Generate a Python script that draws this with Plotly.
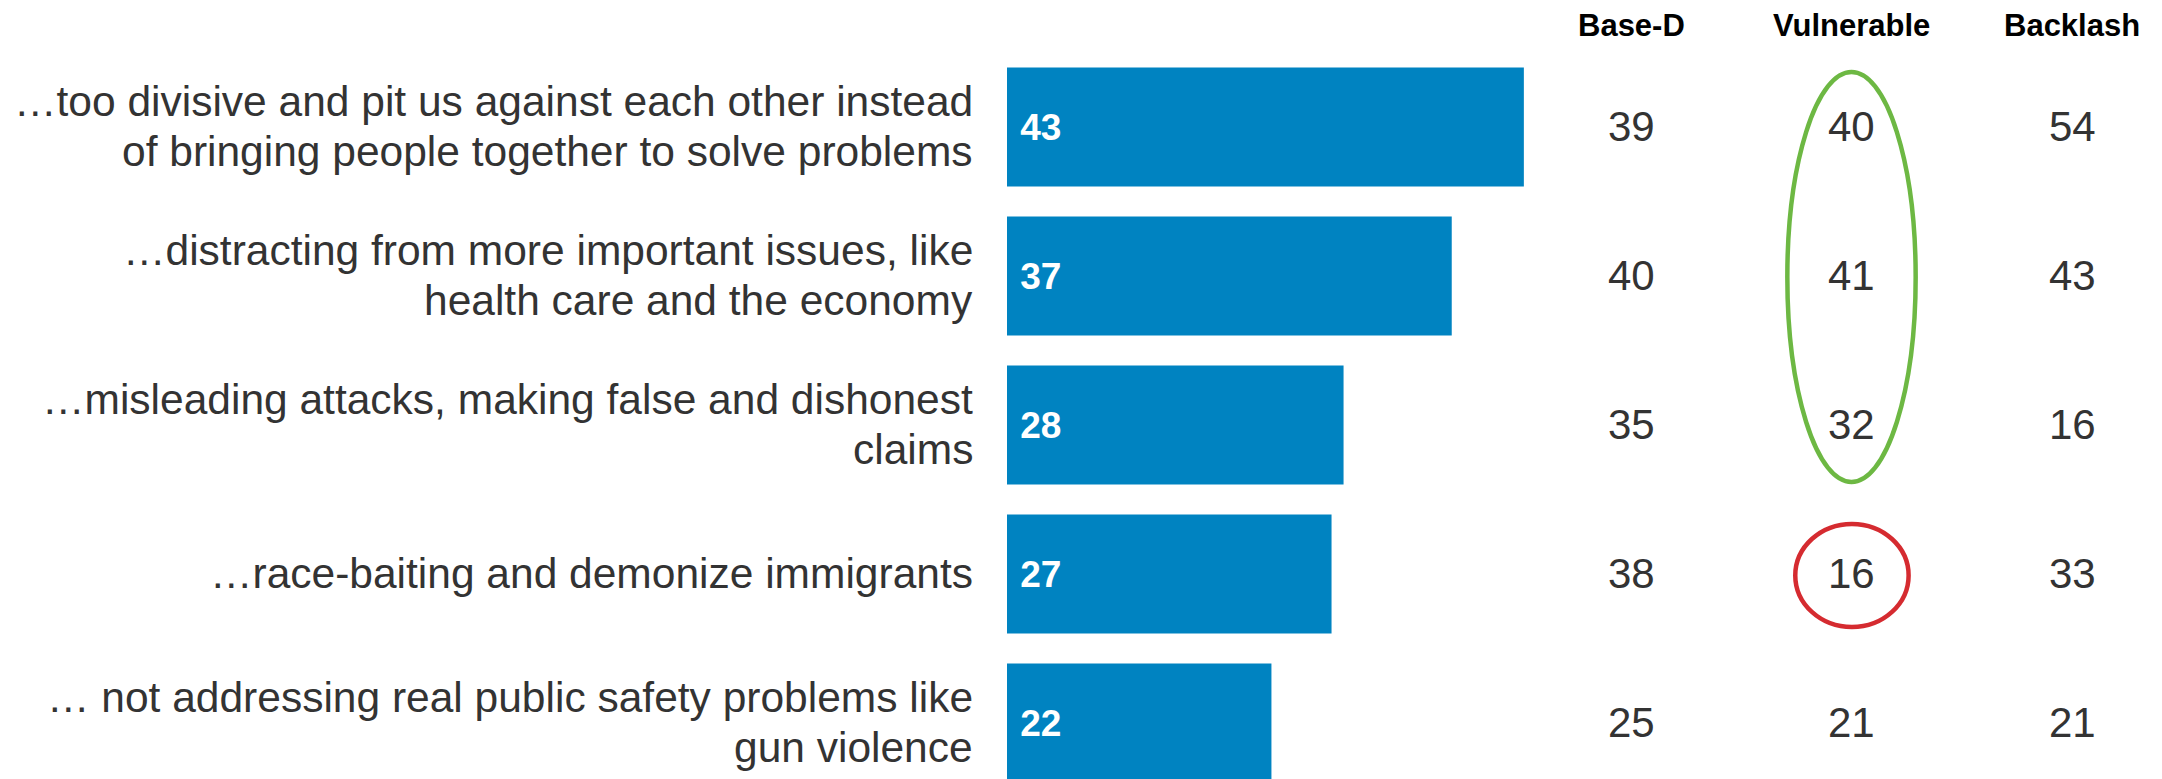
import plotly.graph_objects as go

# ---- data ----
categories = [
    "…too divisive and pit us against each other instead<br>of bringing people together to solve problems",
    "…distracting from more important issues, like<br>health care and the economy",
    "…misleading attacks, making false and dishonest<br>claims",
    "…race-baiting and demonize immigrants",
    "… not addressing real public safety problems like<br>gun violence",
]
total = [43, 37, 28, 27, 22]
groups = ["Base-D", "Vulnerable", "Backlash"]
base_d = [39, 40, 35, 38, 25]
vulnerable = [40, 41, 32, 16, 21]
backlash = [54, 43, 16, 33, 21]

FONT = "Arial, Liberation Sans, Helvetica, sans-serif"
OFF = 8  # page body margin
W, H = 2162 - OFF, 779 - OFF
rows = list(range(len(categories)))

fig = go.Figure()

# bars
fig.add_trace(go.Bar(
    x=total, y=rows, orientation="h",
    marker=dict(color="#0083C1", line=dict(width=0)),
    width=0.8,
    text=["\u00a0" + str(v) for v in total],
    textposition="inside", insidetextanchor="start",
    textfont=dict(family=FONT, size=37, color="white", weight="bold"),
    xaxis="x", yaxis="y", showlegend=False, hoverinfo="skip",
))

# invisible anchor trace for the table axis
fig.add_trace(go.Scatter(
    x=groups, y=[0, 0, 0], mode="markers", marker=dict(opacity=0),
    xaxis="x2", yaxis="y", showlegend=False, hoverinfo="skip",
))

annotations = []
# table values
for g, vals in zip(groups, [base_d, vulnerable, backlash]):
    for i, v in enumerate(vals):
        annotations.append(dict(
            x=g, y=i, xref="x2", yref="y", text=str(v), showarrow=False,
            xanchor="center", yanchor="middle", yshift=1,
            font=dict(family=FONT, size=42, color="#333333"),
        ))
# row labels (one annotation per line for tight spacing)
for i, cat in enumerate(categories):
    lines = cat.split("<br>")
    n = len(lines)
    for li, line in enumerate(lines):
        shift = ((n - 1) / 2 - li) * 50 + 1
        annotations.append(dict(
            x=0, y=i, xref="x", yref="y", text=line, showarrow=False,
            xanchor="right", yanchor="middle", xshift=-32, yshift=shift,
            font=dict(family=FONT, size=42.5, color="#333333"),
        ))
# column headers
for g in groups:
    annotations.append(dict(
        x=g, y=1 - (25 - OFF) / H, xref="x2", yref="paper", text="<b>" + g + "</b>",
        showarrow=False, xanchor="center", yanchor="middle",
        font=dict(family=FONT, size=31, color="#000000"),
    ))

shapes = [
    dict(type="circle", xref="x2", yref="y", x0=0.709, x1=1.291, y0=-0.369, y1=2.383,
         line=dict(color="#6DB843", width=4.5)),
    dict(type="circle", xref="x2", yref="y", x0=0.745, x1=1.259, y0=2.664, y1=3.356,
         line=dict(color="#D52B30", width=4.5)),
]

# page-pixel geometry (converted to figure pixels by subtracting OFF)
px_per_unit = 12.02
bar_x0 = 1007 - OFF
x_dom0 = bar_x0 / W
x_dom1 = 0.72
x_max = (x_dom1 * W - bar_x0) / px_per_unit

col0 = 1631 - OFF
col_sp = 220.5
x2_left = 1530 - OFF
x2_lo = (x2_left - col0) / col_sp
x2_hi = (W - col0) / col_sp

row0 = 127 - OFF
row_sp = 149
y_top = -row0 / row_sp
y_bot = (H - row0) / row_sp

fig.update_layout(
    width=W, height=H,
    margin=dict(l=0, r=0, t=0, b=0),
    paper_bgcolor="white", plot_bgcolor="white",
    xaxis=dict(domain=[x_dom0, x_dom1], range=[0, x_max], visible=False, fixedrange=True),
    xaxis2=dict(domain=[x2_left / W, 1], range=[x2_lo, x2_hi], type="category",
                categoryorder="array", categoryarray=groups, visible=False,
                anchor="y", fixedrange=True),
    yaxis=dict(range=[y_bot, y_top], visible=False, fixedrange=True),
    bargap=0.2,
    annotations=annotations,
    shapes=shapes,
    showlegend=False,
)

fig.write_html("out.html")
